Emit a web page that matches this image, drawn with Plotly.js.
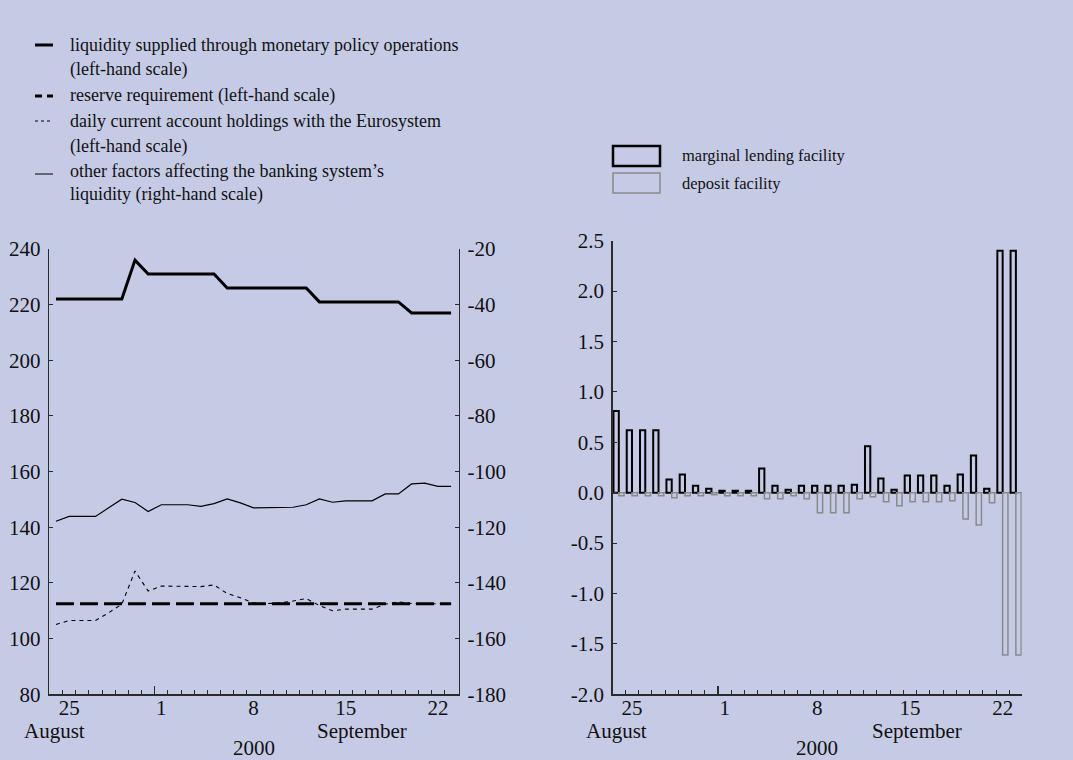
<!DOCTYPE html>
<html><head><meta charset="utf-8">
<script src="https://cdn.plot.ly/plotly-3.0.1.min.js"></script>
<style>html,body{margin:0;padding:0;background:#c6cbe5;}#chart{width:1073px;height:760px;}</style>
</head><body><div id="chart"></div>
<script>
// ---- data ----
const dates = ["2000-08-24","2000-08-25","2000-08-26","2000-08-27","2000-08-28","2000-08-29","2000-08-30","2000-08-31",
  "2000-09-01","2000-09-02","2000-09-03","2000-09-04","2000-09-05","2000-09-06","2000-09-07","2000-09-08",
  "2000-09-09","2000-09-10","2000-09-11","2000-09-12","2000-09-13","2000-09-14","2000-09-15","2000-09-16",
  "2000-09-17","2000-09-18","2000-09-19","2000-09-20","2000-09-21","2000-09-22","2000-09-23"];
const liquiditySupplied = [222,222,222,222,222,222,236,231,231,231,231,231,231,226,226,226,226,226,226,226,221,221,221,221,221,221,221,217,217,217,217];
const reserveRequirement = [112.5,112.5,112.5,112.5,112.5,112.5,112.5,112.5,112.5,112.5,112.5,112.5,112.5,112.5,112.5,112.5,112.5,112.5,112.5,112.5,112.5,112.5,112.5,112.5,112.5,112.5,112.5,112.5,112.5,112.5,112.5];
const currentAccount = [105.1,106.5,106.5,106.5,109.3,112.4,124.3,117.1,118.9,118.9,118.9,118.7,119.3,116.2,114.7,112.8,112.6,112.8,113.5,114.4,111.9,110.0,110.6,110.6,110.6,112.4,113.2,112.6,112.6,112.6,112.5];
const otherFactors = [-117.8,-116.1,-116.1,-116.1,-113.0,-109.9,-111.1,-114.3,-111.9,-111.9,-111.9,-112.5,-111.5,-109.8,-111.2,-113.0,-113.0,-113.0,-112.8,-111.9,-109.8,-111.0,-110.5,-110.5,-110.5,-108.0,-108.0,-104.4,-104.1,-105.3,-105.3];
const marginalLending = [0.81,0.62,0.62,0.62,0.13,0.18,0.07,0.04,0.02,0.02,0.02,0.24,0.07,0.03,0.07,0.07,0.07,0.07,0.08,0.46,0.14,0.03,0.17,0.17,0.17,0.07,0.18,0.37,0.04,2.40,2.40];
const depositFacility = [-0.03,-0.03,-0.03,-0.03,-0.05,-0.03,-0.03,-0.02,-0.03,-0.03,-0.03,-0.06,-0.06,-0.03,-0.06,-0.20,-0.20,-0.20,-0.06,-0.04,-0.09,-0.13,-0.09,-0.09,-0.09,-0.08,-0.26,-0.32,-0.10,-1.61,-1.61];

const xTickVals = ["2000-08-25","2000-09-01","2000-09-08","2000-09-15","2000-09-22"];
const xTickText = ["25","1","8","15","22"];
const leftTickVals = [80,100,120,140,160,180,200,220,240];
const leftTickText = ["80","100","120","140","160","180","200","220","240"];
const rightTickVals = [-180,-160,-140,-120,-100,-80,-60,-40,-20];
const rightTickText = ["-180","-160","-140","-120","-100","-80","-60","-40","-20"];
const barTickVals = [-2,-1.5,-1,-0.5,0,0.5,1,1.5,2,2.5];
const barTickText = ["-2.0","-1.5","-1.0","-0.5","0.0","0.5","1.0","1.5","2.0","2.5"];
const legendLeft = [
  ["liquidity supplied through monetary policy operations","(left-hand scale)"],
  ["reserve requirement (left-hand scale)"],
  ["daily current account holdings with the Eurosystem","(left-hand scale)"],
  ["other factors affecting the banking system\u2019s","liquidity (right-hand scale)"]
];
const legendRight = ["marginal lending facility","deposit facility"];
const monthLabels = ["August","September"];
const yearLabel = "2000";

// ---- layout helpers ----
const W = 1073, H = 760;
const px = v => v / W;
const py = v => (H - v) / H;
const FONT = "Liberation Serif, Times New Roman, serif";
const INK = "#111";
const AX = "#2b2b2b";
const BG = "#c6cbe5";
const DAY = 86400000;
const t0 = Date.parse(dates[0] + "T00:00:00Z");
const tN = Date.parse(dates[dates.length - 1] + "T00:00:00Z");
const iso = ms => new Date(ms).toISOString().replace("T", " ").replace("Z", "");
const leftRange = [iso(t0 - 0.53 * DAY), iso(tN + 0.6 * DAY)];
const rightRange = [iso(t0 - 0.46 * DAY), iso(tN + 0.44 * DAY)];
const dayBounds = dates.slice(0, -1).map(d => iso(Date.parse(d + "T12:00:00Z")));
const monthBound = [iso(Date.parse("2000-08-31T12:00:00Z"))];

const tickFont = {family: FONT, size: 21, color: INK};

function xAxis(dom, anchor, range) {
  return {domain: dom, anchor: anchor, type: "date", range: range,
    tickmode: "array", tickvals: xTickVals, ticktext: xTickText, ticks: "", ticklabelstandoff: -6,
    tickfont: tickFont, showline: true, linecolor: AX, linewidth: 1.4, showgrid: false, zeroline: false,
    minor: {tickmode: "array", tickvals: dayBounds, ticks: "inside", ticklen: 4, tickwidth: 1, tickcolor: AX, showgrid: false}};
}
function monthAxis(overlay, anchor, range) {
  return {overlaying: overlay, anchor: anchor, type: "date", range: range, tickmode: "array",
    tickvals: monthBound, ticks: "inside", ticklen: 8, tickwidth: 1.3, tickcolor: AX,
    showticklabels: false, showline: false, showgrid: false, zeroline: false};
}
function yAxis(dom, anchor, side, range, vals, text, extra) {
  return Object.assign({domain: dom, anchor: anchor, side: side, range: range,
    tickmode: "array", tickvals: vals, ticktext: text, ticks: "inside", ticklen: 4, tickwidth: 1, tickcolor: AX,
    ticklabelstandoff: 3, tickfont: tickFont, showline: true, linecolor: AX, linewidth: 1.4,
    showgrid: false, zeroline: false}, extra || {});
}

const leftDomX = [px(49), px(459)];
const rightDomX = [px(612.7), px(1021.7)];
const leftDomY = [py(694.3), py(249)];
const rightDomY = [py(694.3), py(240.7)];

const traces = [
  {x: dates, y: otherFactors, xaxis: "x", yaxis: "y2", mode: "lines", line: {color: "#000", width: 1.2}, name: "other factors"},
  {x: dates, y: currentAccount, xaxis: "x", yaxis: "y", mode: "lines", line: {color: "#000", width: 1.1, dash: "4px,4px"}, name: "current account"},
  {x: dates, y: reserveRequirement, xaxis: "x", yaxis: "y", mode: "lines", line: {color: "#000", width: 3, dash: "18px,6px"}, name: "reserve requirement"},
  {x: dates, y: liquiditySupplied, xaxis: "x", yaxis: "y", mode: "lines", line: {color: "#000", width: 3}, name: "liquidity supplied"},
  {x: dates, y: marginalLending, xaxis: "x2", yaxis: "y3", type: "bar", name: legendRight[0],
    marker: {color: "rgba(0,0,0,0)", line: {color: "#000", width: 2}}},
  {x: dates, y: depositFacility, xaxis: "x2", yaxis: "y3", type: "bar", name: legendRight[1],
    marker: {color: "rgba(0,0,0,0)", line: {color: "#8a8a8a", width: 1.5}}},
  {x: [], y: [], xaxis: "x3", yaxis: "y", mode: "lines", hoverinfo: "skip"},
  {x: [], y: [], xaxis: "x4", yaxis: "y3", mode: "lines", hoverinfo: "skip"}
];

const annotations = [];
const shapes = [];
const legFont = {family: FONT, size: 18, color: INK};
const legFontR = {family: FONT, size: 16.5, color: INK};
const rowsY = [[45, 70], [96], [121, 146], [171, 195]];
legendLeft.forEach((lines, i) => {
  lines.forEach((t, j) => annotations.push({xref: "paper", yref: "paper", x: px(68), y: py(rowsY[i][j]),
    xanchor: "left", yanchor: "middle", text: t, showarrow: false, font: legFont}));
});
const sampleStyles = [{width: 3}, {width: 3, dash: "7px,5px"}, {width: 1, dash: "3px,3px"}, {width: 1}];
sampleStyles.forEach((s, i) => {
  const yy = py(rowsY[i][0] + (i === 3 ? 3 : 0));
  shapes.push({type: "line", xref: "paper", yref: "paper", x0: px(35), x1: px(53), y0: yy, y1: yy,
    line: Object.assign({color: "#000"}, s)});
});
shapes.push({type: "rect", xref: "paper", yref: "paper", x0: px(613), x1: px(660), y0: py(146), y1: py(166),
  line: {color: "#000", width: 2.5}, fillcolor: "rgba(0,0,0,0)"});
shapes.push({type: "rect", xref: "paper", yref: "paper", x0: px(613), x1: px(660), y0: py(173), y1: py(193),
  line: {color: "#8a8a8a", width: 1.5}, fillcolor: "rgba(0,0,0,0)"});
annotations.push({xref: "paper", yref: "paper", x: px(680), y: py(156), xanchor: "left", yanchor: "middle",
  text: legendRight[0], showarrow: false, font: legFontR});
annotations.push({xref: "paper", yref: "paper", x: px(680), y: py(183), xanchor: "left", yanchor: "middle",
  text: legendRight[1], showarrow: false, font: legFontR});

// month / year labels
const subFont = {family: FONT, size: 21, color: INK};
[[54.5, 361.5, 254], [616.7, 917, 817]].forEach(p => {
  annotations.push({xref: "paper", yref: "paper", x: px(p[0]), y: py(731), xanchor: "center", yanchor: "middle", text: monthLabels[0], showarrow: false, font: subFont});
  annotations.push({xref: "paper", yref: "paper", x: px(p[1]), y: py(731), xanchor: "center", yanchor: "middle", text: monthLabels[1], showarrow: false, font: subFont});
  annotations.push({xref: "paper", yref: "paper", x: px(p[2]), y: py(748), xanchor: "center", yanchor: "middle", text: yearLabel, showarrow: false, font: subFont});
});

const layout = {
  width: W, height: H, margin: {l: 0, r: 0, t: 0, b: 0},
  paper_bgcolor: BG, plot_bgcolor: BG, showlegend: false,
  font: {family: FONT, color: INK},
  barmode: "group", bargap: 0.2, bargroupgap: 0,
  xaxis: xAxis(leftDomX, "y", leftRange),
  xaxis2: xAxis(rightDomX, "y3", rightRange),
  xaxis3: monthAxis("x", "y", leftRange),
  xaxis4: monthAxis("x2", "y3", rightRange),
  yaxis: yAxis(leftDomY, "x", "left", [80, 240], leftTickVals, leftTickText),
  yaxis2: yAxis(leftDomY, "x", "right", [-180, -20], rightTickVals, rightTickText, {overlaying: "y"}),
  yaxis3: yAxis(rightDomY, "x2", "left", [-2, 2.5], barTickVals, barTickText, {zeroline: true, zerolinecolor: "#8a8a8a", zerolinewidth: 1}),
  yaxis4: yAxis(rightDomY, "x2", "right", [-2, 2.5], barTickVals, barTickText, {overlaying: "y3"}),
  annotations: annotations, shapes: shapes
};
Plotly.newPlot("chart", traces, layout, {displayModeBar: false, staticPlot: true});
</script></body></html>
